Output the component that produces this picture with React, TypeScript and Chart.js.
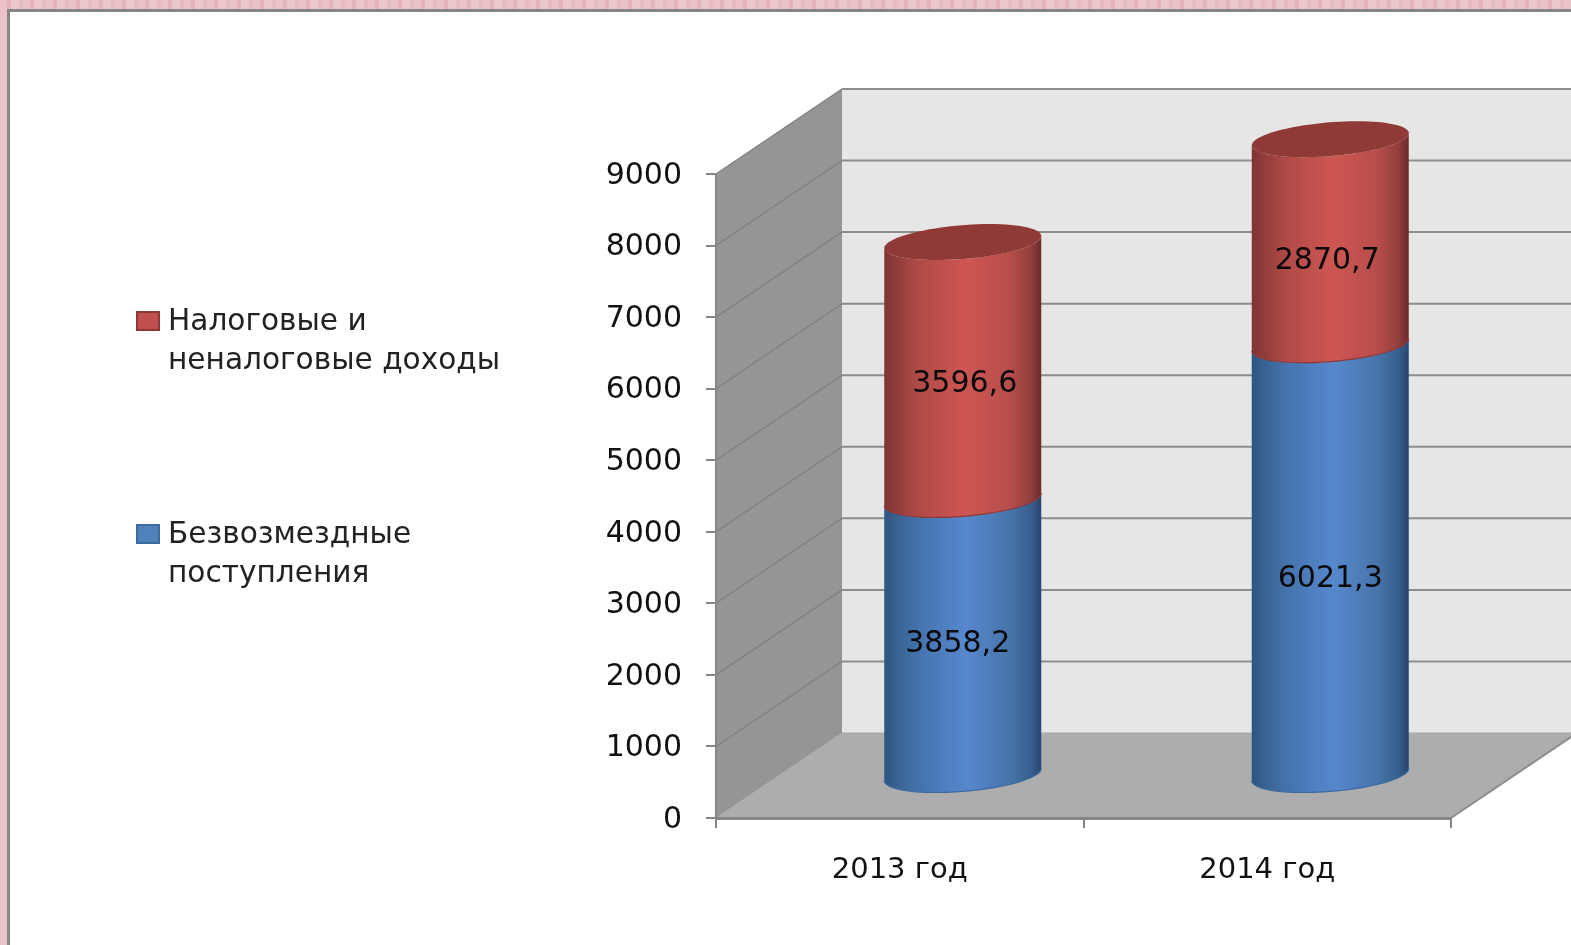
import React, { useEffect, useRef } from "react";
import { Chart, registerables } from "chart.js";

Chart.register(...registerables);

const categories = ["2013 год", "2014 год"];
const grantsLabel = ["Безвозмездные", "поступления"];
const taxLabel = ["Налоговые и", "неналоговые доходы"];
const grantsValues = [3858.2, 6021.3];
const taxValues = [3596.6, 2870.7];
const yMax = 9000;
const yStep = 1000;

const FONT = '"DejaVu Sans", sans-serif';
const FONT_SIZE = 29;
const NUM_FONT_SIZE = 30;
const LEGEND_FONT_SIZE = 29.6;
const WALL_DX = 126;
const WALL_DY = 85;
const CAP_B = 18;
const CAP_A = (CAP_B * WALL_DX) / WALL_DY;

const AREA = { left: 716, right: 1451, top: 174, bottom: 818 };

const BLUE = {
  solid: "#4f81bd",
  stops: ["#2c5484", "#37618f", "#4473ad", "#5688cd", "#4774aa", "#38608f", "#274670"],
  edge: "#3d6a9f",
  cap: "#3f6797",
};
const RED = {
  solid: "#c0504d",
  stops: ["#7f3432", "#8f3c3a", "#b04a47", "#ce5652", "#b74d4a", "#93403d", "#6b2b29"],
  edge: "#8e3735",
  cap: "#8f3a37",
};
const STOP_AT = [0, 0.07, 0.22, 0.52, 0.8, 0.93, 1];

// Small hand nudges that mimic where the source placed its data labels.
const LABEL_NUDGE = [
  [
    [-5, 7],
    [2, 13],
  ],
  [
    [0, 20],
    [-3, 19],
  ],
];

const cylinderPlugin = {
  id: "cylinder3d",
  beforeDraw(chart: any) {
    const { ctx, width, height } = chart;
    const y = chart.scales.y;
    const { left, right, top, bottom } = chart.chartArea;
    const items = y.getLabelItems() as any;
    if (!items._shifted) {
      items.forEach((it: any) => {
        it.options.translation[1] += 2;
      });
      items._shifted = true;
    }
    ctx.save();
    // page frame
    ctx.fillStyle = "#ffffff";
    ctx.fillRect(8, 11, width, height);
    ctx.fillStyle = "#868686";
    ctx.fillRect(7, 9, width, 3);
    ctx.fillRect(7, 9, 3, height);

    const bx = left + WALL_DX;
    const bTop = top - WALL_DY;
    const bBot = bottom - WALL_DY;
    // back wall
    ctx.fillStyle = "#e6e6e6";
    ctx.fillRect(bx, bTop, width - bx, bBot - bTop);
    // side wall
    ctx.fillStyle = "#959595";
    ctx.beginPath();
    ctx.moveTo(left, top);
    ctx.lineTo(bx, bTop);
    ctx.lineTo(bx, bBot);
    ctx.lineTo(left, bottom);
    ctx.closePath();
    ctx.fill();
    // floor
    ctx.fillStyle = "#adadad";
    ctx.beginPath();
    ctx.moveTo(left, bottom);
    ctx.lineTo(right, bottom);
    ctx.lineTo(right + WALL_DX, bBot);
    ctx.lineTo(bx, bBot);
    ctx.closePath();
    ctx.fill();
    // floor edge
    ctx.strokeStyle = "#8c8c8c";
    ctx.lineWidth = 2;
    ctx.beginPath();
    ctx.moveTo(right, bottom);
    ctx.lineTo(right + WALL_DX, bBot);
    ctx.stroke();
    // gridlines on the walls
    y.ticks.forEach((t: any) => {
      const py = y.getPixelForValue(t.value);
      if (t.value > 0) {
        ctx.strokeStyle = "#8d8d8d";
        ctx.lineWidth = 2;
        ctx.beginPath();
        ctx.moveTo(bx, py - WALL_DY);
        ctx.lineTo(width, py - WALL_DY);
        ctx.stroke();
        ctx.strokeStyle = "#808080";
        ctx.lineWidth = 1.3;
        ctx.beginPath();
        ctx.moveTo(left, py);
        ctx.lineTo(bx, py - WALL_DY);
        ctx.stroke();
      } else {
        ctx.strokeStyle = "#a8a8a8";
        ctx.lineWidth = 1;
        ctx.beginPath();
        ctx.moveTo(left, py);
        ctx.lineTo(bx, py - WALL_DY);
        ctx.moveTo(bx, py - WALL_DY);
        ctx.lineTo(width, py - WALL_DY);
        ctx.stroke();
      }
    });
    ctx.restore();
  },
  beforeDatasetsDraw(chart: any) {
    const { ctx } = chart;
    const sets = [BLUE, RED];
    const count = categories.length;
    for (let i = 0; i < count; i++) {
      sets.forEach((look, d) => {
        const el = chart.getDatasetMeta(d).data[i] as any;
        const r = el.width / 2;
        const cx = el.x + WALL_DX / 2;
        const yTop = el.y - WALL_DY / 2;
        const yBase = el.base - WALL_DY / 2;
        const rx = Math.sqrt(r * r - CAP_A * CAP_A);
        const t0 = Math.atan2(CAP_A, rx);
        const pt = (cy: number, t: number) => [
          cx + rx * Math.cos(t) + CAP_A * Math.sin(t),
          cy - CAP_B * Math.sin(t),
        ];
        const STEPS = 40;
        ctx.save();
        const g = ctx.createLinearGradient(cx - r, 0, cx + r, 0);
        look.stops.forEach((c, k) => g.addColorStop(STOP_AT[k], c));
        ctx.fillStyle = g;
        ctx.beginPath();
        for (let s = 0; s <= STEPS; s++) {
          const t = t0 + Math.PI + (Math.PI * s) / STEPS;
          const [px, py] = pt(yTop, t);
          if (s === 0) ctx.moveTo(px, py);
          else ctx.lineTo(px, py);
        }
        for (let s = STEPS; s >= 0; s--) {
          const t = t0 + Math.PI + (Math.PI * s) / STEPS;
          const [px, py] = pt(yBase, t);
          ctx.lineTo(px, py);
        }
        ctx.closePath();
        ctx.fill();
        // lower rim
        ctx.strokeStyle = look.edge;
        ctx.lineWidth = 1.2;
        ctx.beginPath();
        for (let s = 0; s <= STEPS; s++) {
          const t = t0 + Math.PI + (Math.PI * s) / STEPS;
          const [px, py] = pt(yBase, t);
          if (s === 0) ctx.moveTo(px, py);
          else ctx.lineTo(px, py);
        }
        ctx.stroke();
        // cap, seen only on the topmost segment
        if (d === sets.length - 1) {
          ctx.fillStyle = look.cap;
          ctx.beginPath();
          for (let s = 0; s <= STEPS * 2; s++) {
            const [px, py] = pt(yTop, (Math.PI * s) / STEPS);
            if (s === 0) ctx.moveTo(px, py);
            else ctx.lineTo(px, py);
          }
          ctx.closePath();
          ctx.fill();
        }
        ctx.restore();
      });
    }
    return false;
  },
  afterDraw(chart: any) {
    const { ctx } = chart;
    // data labels
    ctx.save();
    ctx.fillStyle = "#0a0a0a";
    ctx.font = `${NUM_FONT_SIZE}px ${FONT}`;
    ctx.textAlign = "center";
    ctx.textBaseline = "middle";
    chart.data.datasets.forEach((ds: any, d: number) => {
      chart.getDatasetMeta(d).data.forEach((el: any, i: number) => {
        const [nx, ny] = LABEL_NUDGE[i][d];
        const mid = (el.y + el.base) / 2 - WALL_DY / 2;
        ctx.fillText(String(ds.data[i]).replace(".", ","), el.x + WALL_DX / 2 + nx, mid + ny);
      });
    });
    ctx.restore();

    // legend
    const rows = [
      { look: RED, lines: taxLabel, y: 321 },
      { look: BLUE, lines: grantsLabel, y: 534 },
    ];
    ctx.save();
    ctx.font = `${LEGEND_FONT_SIZE}px ${FONT}`;
    ctx.textAlign = "left";
    ctx.textBaseline = "middle";
    rows.forEach(({ look, lines, y }) => {
      ctx.fillStyle = look.solid;
      ctx.strokeStyle = look.edge;
      ctx.lineWidth = 2;
      ctx.fillRect(137, y - 9, 22, 18);
      ctx.strokeRect(137, y - 9, 22, 18);
      ctx.fillStyle = "#222222";
      lines.forEach((line, k) => ctx.fillText(line, 168, y + 1 + k * 39));
    });
    ctx.restore();
  },
};

export default function App() {
  const ref = useRef<HTMLCanvasElement | null>(null);

  useEffect(() => {
    const chart = new Chart(ref.current as HTMLCanvasElement, {
      type: "bar",
      plugins: [cylinderPlugin as any],
      data: {
        labels: categories,
        datasets: [
          {
            label: grantsLabel.join(" "),
            data: grantsValues,
            backgroundColor: BLUE.solid,
          },
          {
            label: taxLabel.join(" "),
            data: taxValues,
            backgroundColor: RED.solid,
          },
        ],
      },
      options: {
        responsive: false,
        animation: false,
        events: [],
        datasets: { bar: { categoryPercentage: 1, barPercentage: 157 / 367.5 } },
        layout: { padding: { top: AREA.top, right: 1571 - AREA.right, left: 0, bottom: 0 } },
        plugins: { legend: { display: false }, tooltip: { enabled: false } },
        scales: {
          x: {
            stacked: true,
            afterFit: (s: any) => {
              s.height = 945 - AREA.bottom;
            },
            grid: {
              offset: true,
              drawOnChartArea: false,
              color: "#868686",
              lineWidth: 2,
              tickLength: 10,
            },
            border: { color: "#868686", width: 3 },
            ticks: {
              color: "#111111",
              padding: 25,
              maxRotation: 0,
              font: { family: FONT, size: FONT_SIZE },
            },
          },
          y: {
            stacked: true,
            min: 0,
            max: yMax,
            afterFit: (s: any) => {
              s.width = AREA.left;
            },
            grid: {
              drawOnChartArea: false,
              color: "#868686",
              lineWidth: 2,
              tickLength: 10,
            },
            border: { color: "#868686", width: 2 },
            ticks: {
              stepSize: yStep,
              color: "#111111",
              padding: 24,
              font: { family: FONT, size: NUM_FONT_SIZE },
              callback: (v: any) => String(v),
            },
          },
        },
      },
    } as any);
    return () => chart.destroy();
  }, []);

  return (
    <div
      style={{
        position: "fixed",
        left: 0,
        top: 0,
        width: 1571,
        height: 945,
        overflow: "hidden",
        background:
          "repeating-linear-gradient(90deg,#eac3c6 0 7px,#e3b5ba 7px 11px,#ecc8ca 11px 19px,#e6bbbf 19px 23px)",
      }}
    >
      <canvas ref={ref} width={1571} height={945} style={{ display: "block" }} />
    </div>
  );
}
